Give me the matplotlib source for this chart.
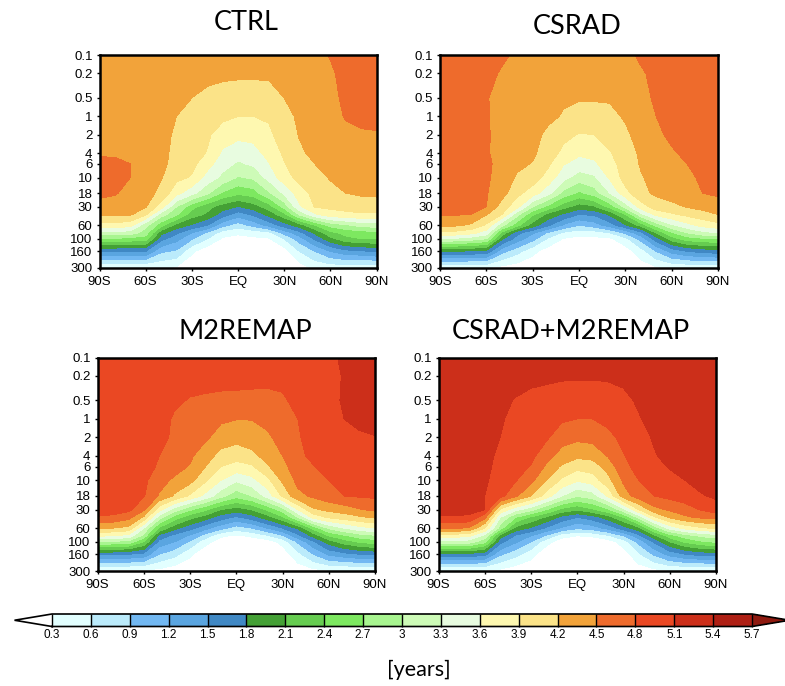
import numpy as np
import matplotlib
matplotlib.use('Agg')
import matplotlib.pyplot as plt

plt.rcParams['font.family'] = ['Liberation Sans', 'DejaVu Sans']

W = 785.0
H = 686.0

# grid the values were read on
lats = [-90, -80, -70, -60, -50, -40, -30, -20, -10, 0, 10, 20, 30, 40, 50, 60, 70, 80, 90]
pres = [0.1, 0.2, 0.5, 1, 2, 4, 6, 10, 18, 30, 40, 60, 80, 100, 160, 300]
tick_pres = [0.1, 0.2, 0.5, 1, 2, 4, 6, 10, 18, 30, 60, 100, 160, 300]
pres_labels = ['0.1', '0.2', '0.5', '1', '2', '4', '6', '10', '18', '30', '60', '100', '160', '300']
lat_ticks = [-90, -60, -30, 0, 30, 60, 90]
lat_labels = ['90S', '60S', '30S', 'EQ', '30N', '60N', '90N']

# age of air in years, one row per pressure level
ctrl = [
    [4.35, 4.35, 4.35, 4.33, 4.32, 4.30, 4.30, 4.28, 4.27, 4.27, 4.27, 4.28, 4.30, 4.32, 4.38, 4.52, 4.65, 4.70, 4.70],
    [4.35, 4.35, 4.35, 4.33, 4.32, 4.30, 4.30, 4.28, 4.26, 4.25, 4.25, 4.25, 4.28, 4.32, 4.38, 4.45, 4.60, 4.66, 4.68],
    [4.35, 4.35, 4.35, 4.33, 4.32, 4.30, 4.20, 4.13, 4.08, 4.06, 4.06, 4.07, 4.20, 4.30, 4.36, 4.42, 4.56, 4.62, 4.64],
    [4.35, 4.35, 4.35, 4.33, 4.30, 4.20, 4.12, 4.05, 3.97, 3.90, 3.90, 3.93, 4.05, 4.28, 4.34, 4.40, 4.52, 4.58, 4.60],
    [4.38, 4.38, 4.36, 4.33, 4.30, 4.15, 4.10, 3.95, 3.75, 3.68, 3.70, 3.85, 4.02, 4.22, 4.32, 4.38, 4.43, 4.46, 4.47],
    [4.45, 4.45, 4.40, 4.33, 4.28, 4.12, 4.05, 3.88, 3.55, 3.42, 3.48, 3.70, 3.95, 4.15, 4.27, 4.33, 4.36, 4.38, 4.40],
    [4.60, 4.58, 4.50, 4.35, 4.27, 4.10, 3.98, 3.72, 3.42, 3.25, 3.35, 3.58, 3.88, 4.10, 4.20, 4.30, 4.33, 4.36, 4.38],
    [4.66, 4.62, 4.50, 4.35, 4.22, 3.98, 3.87, 3.48, 3.22, 2.97, 3.05, 3.40, 3.77, 4.00, 4.10, 4.22, 4.28, 4.32, 4.35],
    [4.55, 4.52, 4.42, 4.32, 4.12, 3.70, 3.40, 3.05, 2.65, 2.46, 2.55, 2.95, 3.35, 3.75, 4.00, 4.12, 4.20, 4.26, 4.28],
    [4.42, 4.40, 4.34, 4.22, 3.75, 3.00, 2.50, 2.20, 1.95, 1.78, 1.95, 2.25, 2.80, 3.55, 3.92, 3.95, 3.97, 3.98, 4.00],
    [4.26, 4.26, 4.24, 3.95, 3.15, 2.75, 2.25, 2.05, 1.65, 1.35, 1.55, 1.90, 2.30, 3.05, 3.55, 3.80, 3.85, 3.88, 3.87],
    [3.80, 3.80, 3.70, 3.10, 2.50, 2.00, 1.75, 1.50, 1.00, 0.75, 1.00, 1.30, 1.65, 1.95, 2.40, 2.80, 2.95, 3.10, 3.15],
    [3.20, 3.20, 3.15, 2.85, 1.90, 1.55, 1.20, 0.85, 0.45, 0.35, 0.40, 0.50, 1.00, 1.40, 1.85, 2.30, 2.50, 2.55, 2.60],
    [2.65, 2.65, 2.60, 2.55, 1.60, 1.30, 0.93, 0.60, 0.25, 0.20, 0.25, 0.27, 0.60, 1.05, 1.55, 2.00, 2.30, 2.40, 2.40],
    [1.50, 1.50, 1.50, 1.50, 0.95, 0.85, 0.35, 0.10, 0.10, 0.10, 0.10, 0.10, 0.15, 0.60, 0.90, 1.20, 1.40, 1.45, 1.55],
    [0.25, 0.25, 0.25, 0.25, 0.32, 0.25, 0.10, 0.10, 0.10, 0.10, 0.10, 0.10, 0.10, 0.15, 0.35, 0.40, 0.38, 0.35, 0.32],
]
csrad = [
    [4.60, 4.60, 4.58, 4.56, 4.55, 4.45, 4.42, 4.40, 4.38, 4.38, 4.38, 4.40, 4.43, 4.54, 4.60, 4.62, 4.65, 4.65, 4.65],
    [4.62, 4.62, 4.60, 4.58, 4.47, 4.40, 4.37, 4.33, 4.31, 4.30, 4.30, 4.32, 4.38, 4.47, 4.56, 4.60, 4.62, 4.64, 4.64],
    [4.62, 4.60, 4.56, 4.52, 4.40, 4.33, 4.28, 4.25, 4.23, 4.22, 4.22, 4.23, 4.30, 4.40, 4.55, 4.60, 4.62, 4.64, 4.64],
    [4.60, 4.60, 4.57, 4.52, 4.42, 4.36, 4.30, 4.25, 4.18, 4.12, 4.12, 4.13, 4.23, 4.35, 4.50, 4.57, 4.60, 4.62, 4.62],
    [4.60, 4.58, 4.55, 4.52, 4.44, 4.33, 4.27, 4.15, 3.98, 3.88, 3.90, 4.00, 4.15, 4.30, 4.45, 4.55, 4.58, 4.60, 4.60],
    [4.60, 4.58, 4.55, 4.52, 4.43, 4.30, 4.25, 4.05, 3.82, 3.65, 3.68, 3.88, 4.05, 4.25, 4.38, 4.47, 4.55, 4.58, 4.60],
    [4.62, 4.60, 4.57, 4.53, 4.45, 4.28, 4.18, 3.95, 3.62, 3.48, 3.55, 3.78, 4.05, 4.22, 4.33, 4.42, 4.50, 4.56, 4.60],
    [4.63, 4.60, 4.57, 4.53, 4.42, 4.15, 4.05, 3.78, 3.40, 3.15, 3.25, 3.65, 4.02, 4.18, 4.28, 4.38, 4.46, 4.53, 4.58],
    [4.60, 4.58, 4.55, 4.52, 4.32, 3.98, 3.75, 3.40, 2.90, 2.63, 2.85, 3.30, 3.80, 4.12, 4.25, 4.33, 4.42, 4.50, 4.55],
    [4.58, 4.56, 4.54, 4.50, 4.06, 3.70, 3.00, 2.60, 2.20, 1.95, 2.05, 2.50, 3.10, 3.75, 4.05, 4.12, 4.22, 4.30, 4.35],
    [4.53, 4.52, 4.50, 4.22, 3.90, 3.10, 2.45, 2.00, 1.75, 1.50, 1.55, 1.85, 2.40, 3.20, 3.70, 3.85, 3.98, 4.08, 4.20],
    [4.25, 4.25, 4.15, 3.85, 3.10, 2.50, 1.95, 1.55, 1.15, 0.90, 1.05, 1.35, 1.75, 2.20, 2.80, 3.25, 3.50, 3.70, 3.80],
    [3.85, 3.80, 3.70, 3.45, 2.30, 1.60, 1.25, 0.85, 0.55, 0.42, 0.45, 0.60, 0.95, 1.40, 2.10, 2.65, 3.00, 3.20, 3.30],
    [3.30, 3.25, 3.15, 3.00, 1.85, 1.35, 1.00, 0.55, 0.28, 0.20, 0.22, 0.25, 0.50, 1.00, 1.65, 2.25, 2.55, 2.65, 2.70],
    [1.80, 1.80, 1.75, 1.70, 1.00, 0.70, 0.38, 0.15, 0.10, 0.10, 0.10, 0.10, 0.15, 0.45, 0.90, 1.30, 1.50, 1.60, 1.65],
    [0.28, 0.28, 0.28, 0.28, 0.20, 0.12, 0.10, 0.10, 0.10, 0.10, 0.10, 0.10, 0.10, 0.15, 0.25, 0.30, 0.33, 0.35, 0.35],
]
m2remap = [
    [4.95, 4.95, 4.95, 4.95, 4.94, 4.93, 4.92, 4.90, 4.90, 4.90, 4.90, 4.90, 4.92, 4.95, 4.98, 5.03, 5.15, 5.20, 5.20],
    [4.95, 4.95, 4.95, 4.95, 4.93, 4.92, 4.92, 4.90, 4.88, 4.87, 4.87, 4.87, 4.88, 4.90, 4.93, 4.97, 5.13, 5.18, 5.18],
    [4.93, 4.93, 4.93, 4.93, 4.92, 4.85, 4.78, 4.76, 4.75, 4.75, 4.74, 4.73, 4.76, 4.88, 4.96, 5.02, 5.13, 5.18, 5.18],
    [4.93, 4.93, 4.93, 4.93, 4.92, 4.76, 4.70, 4.62, 4.55, 4.51, 4.51, 4.58, 4.68, 4.80, 4.93, 5.00, 5.10, 5.15, 5.18],
    [4.93, 4.93, 4.93, 4.93, 4.88, 4.75, 4.67, 4.55, 4.37, 4.30, 4.35, 4.45, 4.60, 4.77, 4.92, 5.00, 5.05, 5.07, 5.09],
    [4.95, 4.95, 4.95, 4.94, 4.80, 4.65, 4.55, 4.33, 4.10, 4.02, 4.12, 4.30, 4.50, 4.72, 4.88, 4.95, 4.98, 5.00, 5.00],
    [4.97, 4.97, 4.97, 4.95, 4.75, 4.60, 4.48, 4.20, 3.90, 3.78, 3.85, 4.15, 4.42, 4.65, 4.78, 4.92, 4.97, 4.98, 4.98],
    [4.97, 4.97, 4.95, 4.87, 4.60, 4.45, 4.30, 3.95, 3.60, 3.35, 3.50, 3.80, 4.25, 4.58, 4.70, 4.80, 4.87, 4.93, 4.95],
    [4.95, 4.93, 4.92, 4.82, 4.47, 4.15, 3.85, 3.50, 3.10, 2.80, 3.00, 3.40, 3.95, 4.42, 4.55, 4.68, 4.80, 4.83, 4.85],
    [4.92, 4.90, 4.87, 4.55, 3.70, 3.15, 2.75, 2.45, 2.10, 1.95, 2.10, 2.45, 2.85, 3.60, 4.15, 4.28, 4.35, 4.48, 4.56],
    [4.78, 4.75, 4.60, 4.15, 3.15, 2.55, 2.20, 1.95, 1.65, 1.45, 1.65, 1.95, 2.35, 3.00, 3.70, 3.95, 4.05, 4.15, 4.25],
    [4.22, 4.20, 4.12, 3.30, 2.35, 1.90, 1.60, 1.30, 1.00, 0.75, 0.90, 1.20, 1.50, 1.85, 2.50, 3.05, 3.30, 3.50, 3.60],
    [3.65, 3.60, 3.50, 2.90, 1.70, 1.40, 1.15, 0.75, 0.35, 0.25, 0.35, 0.55, 0.85, 1.40, 1.90, 2.40, 2.65, 2.85, 2.95],
    [3.00, 2.95, 2.90, 2.40, 1.40, 1.20, 0.85, 0.40, 0.15, 0.10, 0.12, 0.15, 0.40, 0.95, 1.45, 1.95, 2.25, 2.45, 2.55],
    [1.55, 1.55, 1.50, 1.40, 0.90, 0.70, 0.35, 0.10, 0.10, 0.10, 0.10, 0.10, 0.12, 0.50, 0.90, 1.25, 1.40, 1.50, 1.55],
    [0.22, 0.22, 0.22, 0.22, 0.20, 0.10, 0.10, 0.10, 0.10, 0.10, 0.10, 0.10, 0.10, 0.12, 0.20, 0.25, 0.25, 0.25, 0.25],
]
csrad_m2remap = [
    [5.25, 5.25, 5.25, 5.25, 5.25, 5.25, 5.23, 5.22, 5.20, 5.20, 5.20, 5.22, 5.23, 5.25, 5.25, 5.25, 5.25, 5.25, 5.25],
    [5.25, 5.25, 5.25, 5.25, 5.25, 5.23, 5.20, 5.17, 5.14, 5.13, 5.13, 5.14, 5.17, 5.20, 5.25, 5.25, 5.25, 5.25, 5.25],
    [5.25, 5.25, 5.25, 5.25, 5.18, 5.08, 5.00, 4.97, 4.95, 4.95, 4.95, 4.97, 5.03, 5.14, 5.20, 5.25, 5.25, 5.25, 5.25],
    [5.25, 5.25, 5.25, 5.25, 5.14, 5.00, 4.95, 4.92, 4.85, 4.80, 4.80, 4.88, 4.95, 5.08, 5.20, 5.25, 5.25, 5.25, 5.25],
    [5.25, 5.25, 5.25, 5.23, 5.10, 4.98, 4.92, 4.85, 4.60, 4.57, 4.60, 4.72, 4.88, 5.00, 5.13, 5.20, 5.25, 5.25, 5.25],
    [5.25, 5.25, 5.25, 5.20, 5.03, 4.95, 4.88, 4.60, 4.40, 4.26, 4.30, 4.52, 4.78, 4.95, 5.08, 5.17, 5.22, 5.22, 5.22],
    [5.25, 5.25, 5.25, 5.18, 5.00, 4.90, 4.78, 4.45, 4.15, 4.00, 4.05, 4.32, 4.72, 4.90, 5.02, 5.12, 5.18, 5.22, 5.25],
    [5.25, 5.25, 5.25, 5.15, 4.95, 4.82, 4.58, 4.20, 3.85, 3.63, 3.75, 4.10, 4.55, 4.80, 4.92, 5.02, 5.10, 5.20, 5.22],
    [5.22, 5.22, 5.20, 5.10, 4.90, 4.55, 4.20, 3.75, 3.30, 3.03, 3.15, 3.65, 4.35, 4.65, 4.80, 4.88, 4.97, 5.07, 5.15],
    [5.20, 5.20, 5.18, 5.10, 3.85, 3.40, 3.10, 2.70, 2.30, 2.15, 2.35, 2.65, 3.20, 3.90, 4.40, 4.55, 4.65, 4.82, 4.95],
    [5.08, 5.08, 5.05, 4.60, 3.30, 2.70, 2.35, 2.05, 1.70, 1.50, 1.65, 1.95, 2.40, 3.10, 3.85, 4.25, 4.45, 4.55, 4.60],
    [4.55, 4.55, 4.45, 3.90, 2.85, 2.00, 1.75, 1.45, 1.15, 0.95, 1.05, 1.30, 1.65, 2.00, 2.80, 3.40, 3.70, 3.85, 3.95],
    [3.75, 3.75, 3.65, 3.20, 1.95, 1.45, 1.20, 0.85, 0.40, 0.30, 0.35, 0.55, 0.90, 1.40, 2.00, 2.55, 2.85, 3.05, 3.15],
    [3.20, 3.20, 3.15, 2.80, 1.60, 1.25, 0.90, 0.40, 0.15, 0.10, 0.10, 0.15, 0.45, 1.00, 1.55, 2.10, 2.45, 2.65, 2.75],
    [1.70, 1.70, 1.70, 1.60, 0.95, 0.70, 0.40, 0.10, 0.10, 0.10, 0.10, 0.10, 0.15, 0.55, 0.95, 1.30, 1.50, 1.60, 1.65],
    [0.22, 0.22, 0.22, 0.22, 0.22, 0.10, 0.10, 0.10, 0.10, 0.10, 0.10, 0.10, 0.10, 0.12, 0.20, 0.25, 0.25, 0.25, 0.25],
]

titles = ['CTRL', 'CSRAD', 'M2REMAP', 'CSRAD+M2REMAP']
fields = [ctrl, csrad, m2remap, csrad_m2remap]

levels = [0.3, 0.6, 0.9, 1.2, 1.5, 1.8, 2.1, 2.4, 2.7, 3, 3.3, 3.6, 3.9, 4.2, 4.5, 4.8, 5.1, 5.4, 5.7]
level_labels = ['0.3', '0.6', '0.9', '1.2', '1.5', '1.8', '2.1', '2.4', '2.7', '3', '3.3', '3.6', '3.9', '4.2', '4.5', '4.8', '5.1', '5.4', '5.7']
colors = ['#ffffff', '#e2ffff', '#bbebfb', '#72b8f2', '#5aa5e0', '#4088c4', '#44a035', '#66cc50', '#7de860',
          '#a8f590', '#cdfbb7', '#e8fce0', '#fef8b0', '#fbe388', '#f2a33a', '#ee6b2c', '#ea4823', '#cc2f1a',
          '#ae1f14', '#8e1a10']

# panel boxes in pixels: left, right, top, bottom
boxes = [(99.5, 376.5, 55, 268), (440, 718, 55, 268), (97.5, 375, 357.5, 571), (438.5, 716, 357.5, 571)]
title_pos = [(246, 22), (577.5, 26), (245.5, 331), (571, 331)]

fig = plt.figure(figsize=(W / 100, H / 100), dpi=100)
log_p = np.log10(pres)
tick_y = np.log10(tick_pres)
cs = None
for i in range(4):
    l, r, t, b = boxes[i]
    ax = fig.add_axes([l / W, 1 - b / H, (r - l) / W, (b - t) / H])
    cs = ax.contourf(lats, log_p, np.array(fields[i]), levels=levels, colors=colors[1:-1], extend='both')
    cs.cmap.set_under(colors[0])
    cs.cmap.set_over(colors[-1])
    cs.changed()
    ax.set_xlim(-90, 90)
    ax.set_ylim(log_p[-1], log_p[0])
    ax.set_xticks(lat_ticks)
    ax.set_xticklabels(lat_labels)
    ax.set_yticks(tick_y)
    ax.set_yticklabels(pres_labels)
    ax.tick_params(length=2, width=1, labelsize=9.5)
    ax.tick_params(axis='x', pad=3.5)
    ax.tick_params(axis='y', pad=3)
    for s in ax.spines.values():
        s.set_linewidth(1.8)
    fig.text(title_pos[i][0] / W, 1 - title_pos[i][1] / H, titles[i], ha='center', va='center',
             fontsize=19.5, family='Lato')

# colorbar axes includes the two arrows
cax = fig.add_axes([14.5 / W, 1 - 626.5 / H, 775 / W, 12.5 / H])
cb = fig.colorbar(cs, cax=cax, orientation='horizontal', extendfrac=0.0535, drawedges=True)
cb.set_ticks(levels)
cb.set_ticklabels(level_labels)
cb.ax.tick_params(length=0, pad=1.5, labelsize=8.5)
cb.dividers.set_linewidth(1)
cb.outline.set_linewidth(1.2)

fig.text(418.5 / W, 1 - 670 / H, '[years]', ha='center', va='center', fontsize=15.5, family='Lato')

fig.savefig('out.png', dpi=100)
